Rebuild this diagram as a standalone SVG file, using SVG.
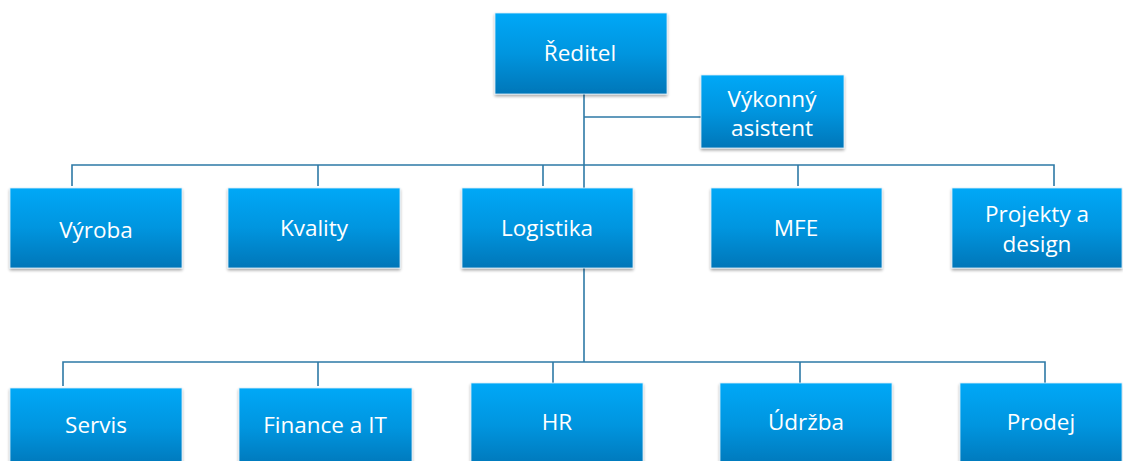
<svg xmlns="http://www.w3.org/2000/svg" width="1123" height="461" viewBox="0 0 1123 461">
<defs>
<linearGradient id="g" x1="0" y1="0" x2="0" y2="1">
<stop offset="0" stop-color="#00a8f7"/>
<stop offset="0.5" stop-color="#0095df"/>
<stop offset="1" stop-color="#0076b8"/>
</linearGradient>
<filter id="sh" x="-10%" y="-10%" width="120%" height="130%">
<feGaussianBlur in="SourceAlpha" stdDeviation="1.5"/>
<feOffset dx="0" dy="2"/>
<feComponentTransfer><feFuncA type="linear" slope="0.35"/></feComponentTransfer>
<feMerge><feMergeNode/><feMergeNode in="SourceGraphic"/></feMerge>
</filter>
</defs>
<style>
.box{fill:url(#g);stroke:#d9eefa;stroke-width:0.8;filter:url(#sh)}
.t{font-family:"Open Sans","Noto Sans","DejaVu Sans",sans-serif;font-size:22.5px;fill:#ffffff;text-anchor:middle;dominant-baseline:central}
.c{fill:none;stroke:#2d79a6;stroke-width:1.6}
</style>
<rect width="1123" height="461" fill="#ffffff"/>
<g id="connectors">
<path class="c" d="M584 94 V188"/>
<path class="c" d="M584 117 H701"/>
<path class="c" d="M72 186 V165 H1054 V186"/>
<path class="c" d="M318 165 V186"/>
<path class="c" d="M543 165 V186"/>
<path class="c" d="M798 165 V186"/>
<path class="c" d="M584 268 V362"/>
<path class="c" d="M63 386 V362 H1045 V383"/>
<path class="c" d="M318 362 V386"/>
<path class="c" d="M553 362 V383"/>
<path class="c" d="M800 362 V383"/>
</g>
<g id="reditel"><rect class="box" x="495" y="13" width="172" height="81"/><text class="t" x="580" y="52">Ředitel</text></g>
<g id="asistent"><rect class="box" x="701" y="75" width="143" height="73"/><text class="t" x="772" y="98">Výkonný</text><text class="t" x="772" y="127">asistent</text></g>
<g id="vyroba"><rect class="box" x="10" y="188" width="172" height="80"/><text class="t" x="96" y="229">Výroba</text></g>
<g id="kvality"><rect class="box" x="228" y="188" width="172" height="80"/><text class="t" x="314" y="227">Kvality</text></g>
<g id="logistika"><rect class="box" x="462" y="188" width="171" height="80"/><text class="t" x="547" y="227">Logistika</text></g>
<g id="mfe"><rect class="box" x="711" y="188" width="171" height="80"/><text class="t" x="796" y="227">MFE</text></g>
<g id="projekty"><rect class="box" x="952" y="188" width="170" height="80"/><text class="t" x="1037" y="213">Projekty a</text><text class="t" x="1037" y="243">design</text></g>
<g id="servis"><rect class="box" x="10" y="388" width="172" height="80"/><text class="t" x="96" y="424">Servis</text></g>
<g id="finance"><rect class="box" x="239" y="388" width="173" height="80"/><text class="t" x="325" y="424">Finance a IT</text></g>
<g id="hr"><rect class="box" x="471" y="383" width="172" height="85"/><text class="t" x="557" y="421">HR</text></g>
<g id="udrzba"><rect class="box" x="720" y="383" width="172" height="85"/><text class="t" x="806" y="421">Údržba</text></g>
<g id="prodej"><rect class="box" x="960" y="383" width="162" height="85"/><text class="t" x="1041" y="421">Prodej</text></g>
</svg>
